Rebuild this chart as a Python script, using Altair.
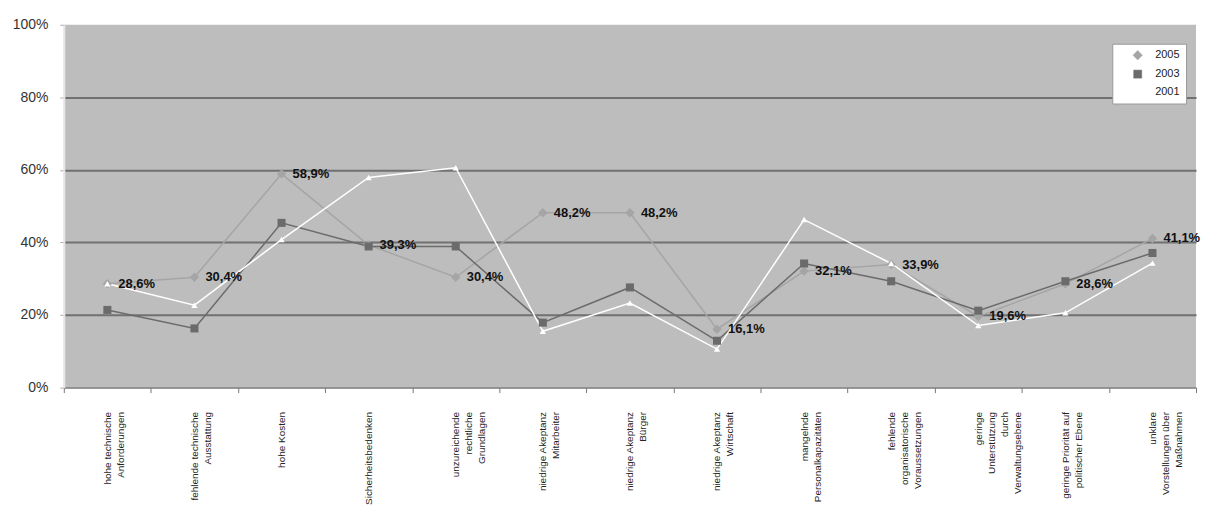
import altair as alt
import pandas as pd

categories = [
    "hohe technische\nAnforderungen",
    "fehlende technische\nAusstattung",
    "hohe Kosten",
    "Sicherheitsbedenken",
    "unzureichende\nrechtliche\nGrundlagen",
    "niedrige Akeptanz\nMitarbeiter",
    "niedrige Akeptanz\nBürger",
    "niedrige Akeptanz\nWirtschaft",
    "mangelnde\nPersonalkapazitäten",
    "fehlende\norganisatorische\nVoraussetzungen",
    "geringe\nUnterstützung\ndurch\nVerwaltungsebene",
    "geringe Priorität auf\npolitischer Ebene",
    "unklare\nVorstellungen über\nMaßnahmen",
]
years = ["2005", "2003", "2001"]
v2005 = [28.6, 30.4, 58.9, 39.3, 30.4, 48.2, 48.2, 16.1, 32.1, 33.9, 19.6, 28.6, 41.1]
v2003 = [21.4, 16.3, 45.4, 38.9, 38.9, 17.9, 27.6, 12.9, 34.2, 29.3, 21.2, 29.3, 37.1]
v2001 = [28.6, 22.7, 40.8, 57.9, 60.6, 15.5, 23.3, 10.6, 46.3, 34.2, 17.1, 20.6, 34.3]

series = {"2005": v2005, "2003": v2003, "2001": v2001}
rows = []
for y in years:
    for c, v in zip(categories, series[y]):
        rows.append({"cat": c, "year": y, "value": v / 100.0})
df = pd.DataFrame(rows)
lab = pd.DataFrame({
    "cat": categories,
    "value": [v / 100.0 for v in v2005],
    "label": [f"{v:.1f}".replace(".", ",") + "%" for v in v2005],
})

colors = ["#a5a5a5", "#6b6b6b", "#ffffff"]
shapes = ["diamond", "square", "triangle-up"]
sizes = [90, 40, 85]

xenc = alt.X("cat:N", sort=categories, title=None,
             scale=alt.Scale(paddingInner=0, paddingOuter=0),
             axis=alt.Axis(labelAngle=-90, labelAlign="right", labelBaseline="middle",
                           labelExpr="split(datum.label, '\\n')",
                           labelFont="Liberation Sans", labelFontSize=10, labelColor="#222",
                           labelLineHeight=13, labelPadding=19, labelLimit=300,
                           tickBand="extent", tickSize=5, tickColor="#777",
                           domainColor="#777", domainWidth=1.5, grid=False))
yenc = alt.Y("value:Q", title=None,
             scale=alt.Scale(domain=[0, 1], nice=False),
             axis=alt.Axis(values=[0, 0.2, 0.4, 0.6, 0.8, 1.0], format=".0%",
                           labelFont="Liberation Sans", labelFontSize=14, labelColor="#333",
                           labelPadding=12, tickSize=4, tickColor="#aaa",
                           domainColor="#e6e6e6", domainWidth=2,
                           grid=True, gridWidth=2,
                           gridColor={"condition": {"test": "datum.value == 0 || datum.value == 1",
                                                    "value": "transparent"},
                                      "value": "#717171"}))
color = alt.Color("year:N", scale=alt.Scale(domain=years, range=colors),
                  legend=alt.Legend(title=None, orient="none", legendX=1052, legendY=19,
                                    fillColor="white", strokeColor="#999", padding=6,
                                    labelFont="Liberation Sans", labelFontSize=11,
                                    labelColor="#222", rowPadding=6, symbolSize=50,
                                    symbolOffset=14, labelOffset=12,
                                    symbolStrokeColor="#888", symbolStrokeWidth=0.5))
shape = alt.Shape("year:N", scale=alt.Scale(domain=years, range=shapes))
size = alt.Size("year:N", scale=alt.Scale(domain=years, range=sizes), legend=None)

layers = []
for y in years:
    d = df[df.year == y]
    layers.append(alt.Chart(d).mark_line(strokeWidth=1.5).encode(x=xenc, y=yenc, color=color))
for y in years:
    d = df[df.year == y]
    layers.append(alt.Chart(d).mark_point(filled=True, opacity=1).encode(
        x=xenc, y=yenc, color=color, shape=shape, size=size))
layers.append(alt.Chart(lab).mark_text(align="left", baseline="middle", dx=11, dy=0,
                                       font="Liberation Sans", fontSize=13, fontWeight="bold",
                                       color="#111").encode(x=xenc, y=yenc, text="label:N"))

chart = alt.layer(*layers).properties(
    width=1136, height=364,
    background="white",
    autosize=alt.AutoSizeParams(type="none"),
    padding={"left": 56, "top": 16, "right": 5, "bottom": 120},
).configure_view(fill="#bdbdbd", stroke=None)

chart.save("out.html", embed_options={"renderer": "svg", "actions": False})
